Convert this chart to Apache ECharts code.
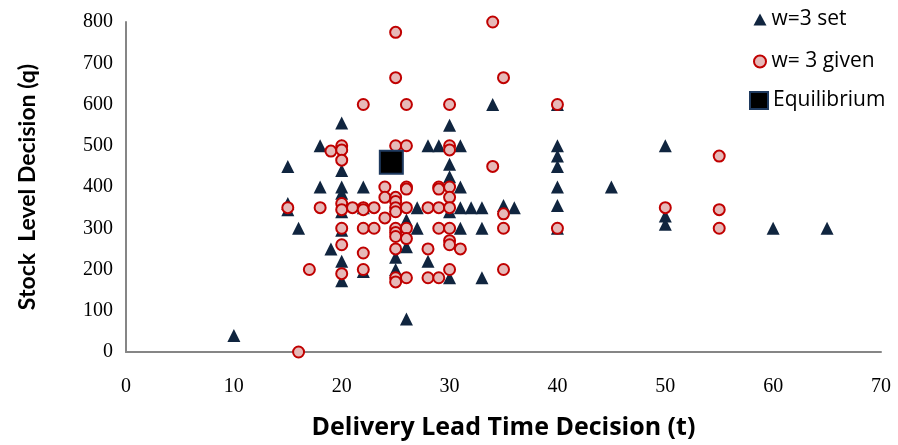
<!DOCTYPE html>
<html>
<head>
<meta charset="utf-8">
<script src="https://cdn.jsdelivr.net/npm/echarts@6/dist/echarts.min.js"></script>
<style>
  html, body { margin: 0; padding: 0; background: #fff; }
  #chart { width: 898px; height: 445px; }
</style>
</head>
<body>
<div id="chart"></div>
<script>
// Decisions made when the wholesale price w=3 is set by the player
const setPoints = [
  [10, 40], [15, 450], [15, 360], [15, 345], [16, 300], [18, 500], [18, 400], [19, 250],
  [20, 555], [20, 500], [20, 440], [20, 400], [20, 385], [20, 340], [20, 295], [20, 220], [20, 173],
  [22, 400], [22, 350], [22, 195], [25, 355], [25, 230], [25, 200], [26, 80], [26, 320], [26, 255],
  [27, 350], [27, 300], [28, 500], [28, 220], [29, 500], [30, 550], [30, 455], [30, 425], [30, 340],
  [30, 180], [31, 500], [31, 400], [31, 350], [31, 300], [32, 350], [33, 350], [33, 300], [33, 180],
  [34, 600], [35, 355], [36, 350], [40, 600], [40, 500], [40, 475], [40, 450], [40, 400], [40, 355],
  [40, 300], [45, 400], [50, 500], [50, 330], [50, 310], [60, 300], [65, 300]
];

// Decisions made when w=3 is given
const givenPoints = [
  [16, 0], [15, 350], [17, 200], [18, 350], [19, 487], [20, 500], [20, 490], [20, 465], [20, 360],
  [20, 345], [20, 300], [20, 260], [20, 190], [21, 350], [22, 600], [22, 350], [22, 345], [22, 300],
  [22, 240], [22, 200], [23, 350], [23, 300], [24, 400], [24, 375], [24, 325], [25, 775], [25, 665],
  [25, 500], [25, 375], [25, 365], [25, 350], [25, 340], [25, 300], [25, 290], [25, 280], [25, 250],
  [25, 180], [25, 170], [26, 600], [26, 500], [26, 400], [26, 395], [26, 350], [26, 300], [26, 275],
  [26, 180], [28, 350], [28, 250], [28, 180], [29, 400], [29, 395], [29, 350], [29, 300], [29, 180],
  [30, 600], [30, 500], [30, 490], [30, 400], [30, 375], [30, 350], [30, 300], [30, 270], [30, 260],
  [30, 200], [31, 250], [34, 800], [34, 450], [35, 665], [35, 335], [35, 300], [35, 200], [40, 600],
  [40, 300], [50, 350], [55, 475], [55, 345], [55, 300]
];

// Theoretical equilibrium
const equilibrium = [[24.6, 460]];

const xTicks = { min: 0, max: 70, interval: 10 };
const yTicks = { min: 0, max: 800, interval: 100 };

const navy = '#10253F';
const axisGray = '#868686';

const chart = echarts.init(document.getElementById('chart'), null, { renderer: 'canvas' });

const legendText = { fontFamily: 'Open Sans', fontSize: 21, color: '#000', lineHeight: 20 };

chart.setOption({
  animation: false,
  backgroundColor: '#ffffff',
  grid: { left: 126, right: 17, top: 22, bottom: 93, containLabel: false },
  legend: [
    {
      data: [
        { name: 'w=3 set', icon: 'triangle' },
        { name: 'w= 3 given', icon: 'circle' }
      ],
      orient: 'vertical',
      left: 748,
      top: 4,
      itemWidth: 13,
      itemHeight: 12,
      itemGap: 21,
      textStyle: legendText
    },
    {
      data: [{ name: 'Equilibrium', icon: 'rect' }],
      orient: 'vertical',
      left: 744,
      top: 85,
      itemWidth: 18,
      itemHeight: 17,
      textStyle: legendText
    }
  ],
  xAxis: {
    type: 'value',
    min: xTicks.min,
    max: xTicks.max,
    interval: xTicks.interval,
    name: 'Delivery Lead Time Decision (t)',
    nameLocation: 'middle',
    nameGap: 63,
    nameTextStyle: { fontFamily: 'Open Sans', fontWeight: 'bold', fontSize: 25, color: '#000' },
    axisLine: { show: true, lineStyle: { color: axisGray, width: 2 } },
    axisTick: { show: false },
    splitLine: { show: false },
    axisLabel: { fontFamily: 'Liberation Serif', fontSize: 20, color: '#000', margin: 25 }
  },
  yAxis: {
    type: 'value',
    min: yTicks.min,
    max: yTicks.max,
    interval: yTicks.interval,
    name: 'Stock  Level Decision (q)',
    nameLocation: 'middle',
    nameGap: 87,
    nameTextStyle: { fontFamily: 'Lato', fontWeight: 'bold', fontSize: 23, color: '#000' },
    axisLine: { show: true, lineStyle: { color: axisGray, width: 2 } },
    axisTick: { show: false },
    splitLine: { show: false },
    axisLabel: { fontFamily: 'Liberation Serif', fontSize: 20, color: '#000', margin: 13 }
  },
  series: [
    {
      name: 'w=3 set',
      type: 'scatter',
      symbol: 'triangle',
      symbolSize: 13,
      data: setPoints,
      itemStyle: { color: navy, borderColor: navy, borderWidth: 0, opacity: 1 },
      z: 2
    },
    {
      name: 'w= 3 given',
      type: 'scatter',
      symbol: 'circle',
      symbolSize: 11,
      data: givenPoints,
      itemStyle: { color: '#E6B9B8', borderColor: '#C00000', borderWidth: 2, opacity: 1 },
      z: 3
    },
    {
      name: 'Equilibrium',
      type: 'scatter',
      symbol: 'rect',
      symbolSize: 23,
      data: equilibrium,
      itemStyle: { color: '#000000', borderColor: '#1F3A5F', borderWidth: 2, opacity: 1 },
      z: 4
    }
  ]
});
</script>
</body>
</html>
